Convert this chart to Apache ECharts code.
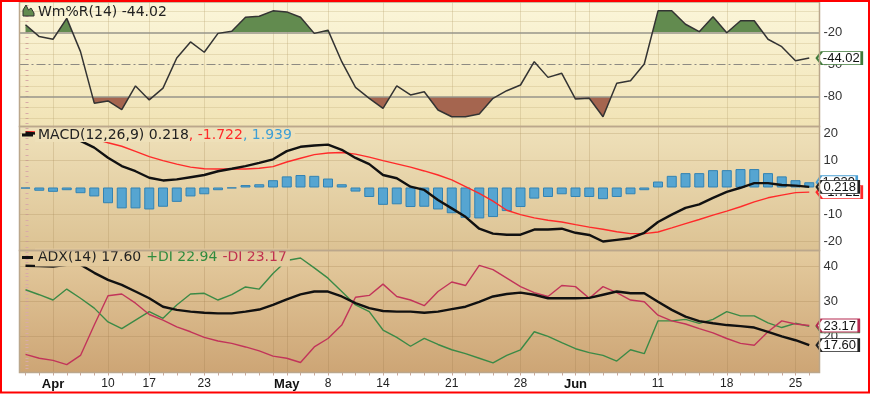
<!DOCTYPE html>
<html><head><meta charset="utf-8">
<script src="https://cdn.jsdelivr.net/npm/echarts/dist/echarts.min.js"></script>
<style>html,body{margin:0;padding:0;background:#fff}#c{width:871px;height:394px}</style>
</head><body><div id="c"></div>
<script>
// ---- data (one value per trading day, 58 days) ----
const wr = [-13,-24,-26.5,-7,-38,-86,-84,-92,-70,-83,-72,-44,-29,-38.6,-21,-19,-6,-5,0,-1,
  -6,-21,-18,-47.4,-71.3,-81.5,-90.8,-70,-78.4,-75.4,-92.4,-98.7,-98.7,-96.1,-81.5,-74.4,-69.1,-47.4,-62,-58.2,
  -82.2,-81.5,-98.7,-67.5,-65.1,-49.5,0,0,-12.5,-19.4,-5.5,-20.4,-9.2,-9.2,-26.5,-33.4,-46.5,-44.02];
const macd = [20.2,19.8,19.3,18.6,17.2,14.7,11.0,7.9,6.0,3.6,2.6,3.0,3.8,4.6,6.0,6.9,7.9,9.1,10.4,13.4,
  15.0,15.5,15.8,13.9,10.9,8.6,4.6,3.4,0.3,-0.9,-4.6,-7.7,-10.8,-15.2,-17,-17.4,-17.4,-15.5,-15.5,-15.2,
  -16.7,-17.5,-19.9,-19.3,-18.7,-16.7,-12.7,-10,-7.5,-6.2,-3.8,-1.6,-0.1,1.6,1.6,0.9,0.7,0.218];
const signal = [20.6,20.5,20.3,19.9,19.3,18.0,16.5,15.2,13.3,11.4,9.9,8.6,7.5,6.9,6.8,6.8,6.8,7.1,7.7,9.4,
  10.8,12.1,12.7,12.9,12.3,11.2,9.9,8.7,7.5,6.1,4.6,2.8,0.3,-2.2,-5,-8.4,-10,-11.2,-12.1,-12.7,
  -13.7,-14.6,-15.4,-16.3,-17,-17,-16.4,-14.9,-13.3,-11.8,-10.2,-8.7,-7.1,-5.3,-3.8,-2.8,-1.9,-1.722];
const hist = [-0.4,-1.2,-1.6,-1.0,-2.1,-3.3,-5.8,-7.7,-7.7,-8.1,-7.1,-5.3,-3.3,-2.5,-1.0,-0.3,0.9,1.2,2.7,4.1,
  4.6,4.3,3.3,1.2,-1.5,-3.5,-6.4,-6.2,-7.2,-7.1,-8.1,-9.5,-11.2,-11.4,-10.9,-8.7,-7.2,-4.1,-3.5,-2.5,
  -3.5,-3.5,-4.3,-3.5,-2.5,-1.0,2.2,4.3,5.3,5.3,6.4,6.4,6.8,6.8,5.3,4.1,2.7,1.939];
const adx = [40.1,40.0,39.9,40.4,40.4,38.1,36.1,34.7,32.8,30.9,28.5,27.6,27.1,26.8,26.6,26.6,27.1,27.7,29.0,30.6,
  32.0,32.8,32.8,31.4,29.5,28.1,27.3,27.1,27.1,26.8,27.1,27.8,28.5,29.9,31.4,32.1,32.5,31.9,30.9,30.9,
  30.9,31.0,31.9,32.8,32.3,32.3,29.9,27.6,25.7,24.4,23.8,23.3,23.0,22.6,21.4,20.1,19.0,17.6];
const plusDI = [33.3,31.9,30.4,33.5,30.9,28.1,24.2,22.3,24.7,27.1,25.2,29,32.1,32.3,30.4,31.9,34.1,33.5,37.9,41.6,
  42.3,39.5,36.6,32.8,29,27.1,21.9,19.8,17.3,19.5,17.8,16.3,15.2,13.9,12.6,14.7,16.3,21.4,20.1,18.3,
  16.6,15.5,14.7,13.1,16.3,15.2,24.5,24.5,24.9,23.8,24.9,27.1,25.9,25.9,23.9,22.6,23.8,22.94];
const minusDI = [15,13.9,13.3,12.1,14.7,23.3,31.6,32.1,29.5,26.3,24.7,22.8,21.4,19.8,18.8,18.1,17.1,16.0,14.5,13.9,
  12.7,17.1,19.5,23.3,31.2,31.7,34.9,31.4,30.4,28.8,32.8,35.5,34.5,40.2,39,36.6,34.2,32.5,31.4,34.5,
  34.2,30.9,34.2,32.5,30.4,29.9,26.1,24.5,23.6,22.3,21.1,19.5,18.1,17.6,21.4,24.5,23.6,23.17];
// x-axis tick labels (day index -> label) and weekly grid-line days
const xTickIndex = [2,6,9,13,19,22,26,31,36,40,46,51,56];
const xTickLabels = ['Apr','10','17','23','May','8','14','21','28','Jun','11','18','25'];
const monthLabels = ['Apr','May','Jun'];
const weekLines = [2,6,9,13,18,19,22,26,31,36,40,41,46,51,56];
// indicator levels
const wrLevels = [-20,-80];
const wrMid = [-50];
const wrMinor = [0,-10,-30,-40,-60,-70,-90,-100];
const wrTicks = [-20,-50,-80];
const macdTicks = [20,10,0,-10,-20];
const adxTicks = [40,30,20];

// ---- layout ----
const L = 19.5, R = 819.5;
const P = [{t:2,b:126.5},{t:126.5,b:250.5},{t:250.5,b:372.5}];
const xMin = -0.4364, xMax = 57.745;
const yR = [[-107.77, 8.23],[-23.23, 22.49],[9.86, 44.43]];
const FONT = 'Liberation Sans, Arial, sans-serif';
const LEG = 'DejaVu Sans, Verdana, sans-serif';
const GREEN = '#628b4f', BROWN = '#a5654f';

const range = (a,b,s) => { const r=[]; for(let v=a; v<=b+1e-9; v+=s) r.push(+v.toFixed(3)); return r; };
const pair = a => a.map((v,i)=>[i,v]);
const chart = echarts.init(document.getElementById('c'), null, {renderer:'canvas'});

const grids = P.map(p=>({left:L, top:p.t, width:R-L, height:p.b-p.t, containLabel:false}));
const xAxes = P.map((p,k)=>({
  type:'value', gridIndex:k, min:xMin, max:xMax,
  splitLine:{show:false}, axisLine:{show:false},
  axisTick: k===2 ? {show:true, customValues: wr.map((v,i)=>i), length:3, lineStyle:{color:'#c9a79a'}} : {show:false},
  axisLabel: k===2 ? {show:true, customValues: xTickIndex, margin:5, color:'#222', fontFamily:FONT, fontSize:12,
     formatter: v => { const s = xTickLabels[xTickIndex.indexOf(Math.round(v))] || ''; return monthLabels.includes(s) ? '{m|'+s+'}' : s; },
     rich:{m:{fontWeight:'bold', fontSize:13, fontFamily:FONT, color:'#111'}}} : {show:false}
}));
const yTickSets = [wrTicks, macdTicks, adxTicks];
const yMinor = [range(-105,5,5), range(-22,22,2), range(10,44,1)];
const yAxes = P.map((p,k)=>({
  type:'value', gridIndex:k, position:'right', min:yR[k][0], max:yR[k][1],
  splitLine:{show:false}, axisLine:{show:false},
  axisTick:{show:true, customValues:yMinor[k], length:3, lineStyle:{color:'#d8aaa8', width:1}},
  axisLabel:{show:true, customValues:yTickSets[k], margin:4, color:'#333', fontFamily:FONT, fontSize:13}
}));

const vLine = (c) => weekLines.map(i=>({xAxis:i, lineStyle:{color:c, width:1, type:'solid'}}));
const hLine = (vals, st) => vals.map(v=>({yAxis:v, lineStyle:st}));
const mlBase = {silent:true, symbol:['none','none'], label:{show:false}, animation:false, z:1, emphasis:{disabled:true}};

const TAG = 'path://M0,6.5L5,0L45,0L45,13L5,13Z';
function tag(v, txt, w, border, z){
  return {silent:true, animation:false, z:z, symbol:TAG, symbolSize:[w,13], symbolOffset:[7.5 + w/2, 0],
    itemStyle:{color:'#fff', borderColor:border, borderWidth:1.5},
    label:{show:true, position:'inside', offset:[2,0.5], formatter:txt, color:'#111', fontFamily:FONT, fontSize:13},
    data:[{coord:[57, v]}]};
}

const series = [
  // W%R fills (above -20 green, below -80 brown)
  {type:'line', xAxisIndex:0, yAxisIndex:0, data:pair(wr), showSymbol:false, lineStyle:{width:0, opacity:0},
   areaStyle:{origin:'start', opacity:1}, silent:true, z:2,
   markLine:Object.assign({}, mlBase, {data: vLine('rgba(190,170,120,0.35)')
     .concat(hLine(wrMinor, {color:'rgba(185,165,110,0.28)', width:1, type:'solid'}))})},
  {type:'line', xAxisIndex:0, yAxisIndex:0, data:pair(wr), showSymbol:false, lineStyle:{width:0, opacity:0},
   areaStyle:{origin:'end', opacity:1}, silent:true, z:2,
   markLine:Object.assign({}, mlBase, {z:3, data: hLine(wrLevels, {color:'#97948a', width:1.6, type:'solid'})
     .concat(hLine(wrMid, {color:'#8d8a82', width:1.2, type:[9,3,2,3]}))})},
  {type:'line', xAxisIndex:0, yAxisIndex:0, data:pair(wr), showSymbol:false, clip:false, z:4,
   lineStyle:{color:'#333', width:1.5}, markPoint: tag(wr[57], wr[57].toFixed(2), 45, '#3f7a3a', 8)},
  // MACD
  {type:'bar', xAxisIndex:1, yAxisIndex:1, data:pair(hist), barWidth:10, clip:false, z:2,
   itemStyle:{color:'#56a5d1', borderColor:'#3383b3', borderWidth:1},
   markLine:Object.assign({}, mlBase, {data: vLine('rgba(170,140,90,0.28)')
     .concat(hLine([20,10,-10,-20], {color:'rgba(170,140,90,0.28)', width:1, type:'solid'}))}),
   markPoint: tag(hist[57], hist[57].toFixed(3), 40, '#4aa0d4', 6)},
  {type:'line', xAxisIndex:1, yAxisIndex:1, data:pair(signal), showSymbol:false, clip:false, z:3,
   lineStyle:{color:'#ff2a2a', width:1.4}, markPoint: tag(signal[57], signal[57].toFixed(3), 45, '#ff2a2a', 7)},
  {type:'line', xAxisIndex:1, yAxisIndex:1, data:pair(macd), showSymbol:false, clip:false, z:4,
   lineStyle:{color:'#111', width:2.4}, markPoint: tag(macd[57], macd[57].toFixed(3), 42, '#222', 8)},
  // ADX
  {type:'line', xAxisIndex:2, yAxisIndex:2, data:pair(plusDI), showSymbol:false, clip:false, z:3,
   lineStyle:{color:'#3b8a46', width:1.4},
   markLine:Object.assign({}, mlBase, {data: vLine('rgba(160,125,80,0.28)')
     .concat(hLine(adxTicks, {color:'rgba(160,125,80,0.28)', width:1, type:'solid'}))}),
   markPoint: tag(plusDI[57], plusDI[57].toFixed(2), 42, '#3b8a46', 6)},
  {type:'line', xAxisIndex:2, yAxisIndex:2, data:pair(minusDI), showSymbol:false, clip:false, z:3,
   lineStyle:{color:'#c2345a', width:1.4}, markPoint: tag(minusDI[57], minusDI[57].toFixed(2), 42, '#b52a50', 7)},
  {type:'line', xAxisIndex:2, yAxisIndex:2, data:pair(adx), showSymbol:false, clip:false, z:4,
   lineStyle:{color:'#111', width:2.4}, markPoint: tag(adx[57], adx[57].toFixed(2), 42, '#222', 8)}
];

const grad = (a,b) => new echarts.graphic.LinearGradient(0,0,0,1,[{offset:0,color:a},{offset:1,color:b}]);
const bgCols = [['#fbf6da','#f1e3b5'],['#efe1ba','#dcc293'],['#e4cb9e','#cda575']];
const graphics = [];
P.forEach((p,k)=>{
  graphics.push({type:'rect', z:-10, silent:true, shape:{x:L, y:p.t, width:R-L, height:p.b-p.t}, style:{fill:grad(bgCols[k][0], bgCols[k][1])}});
});
P.forEach((p,k)=>{
  graphics.push({type:'rect', z:50, silent:true, shape:{x:L, y:p.t, width:R-L, height:p.b-p.t}, style:{fill:'none', stroke:'#bba78c', lineWidth:1.5}});
});
// legend icons
graphics.push({type:'polygon', z:60, silent:true, shape:{points:[[23,16],[23,10],[26,5],[28.5,10],[31,8],[34,13],[34,16]]}, style:{fill:GREEN, stroke:'#333', lineWidth:1}});
graphics.push({type:'rect', z:60, silent:true, shape:{x:22, y:133.5, width:11, height:3}, style:{fill:'#111'}});
graphics.push({type:'rect', z:60, silent:true, shape:{x:22, y:256, width:11, height:3}, style:{fill:'#111'}});
// outer red frame
graphics.push({type:'rect', z:100, silent:true, shape:{x:1, y:1, width:868, height:391.5}, style:{fill:'none', stroke:'#ff0000', lineWidth:2}});

const legStyle = {fontFamily:LEG, fontSize:14, fontWeight:'normal', color:'#222', lineHeight:14};
const rs = (c, lh) => Object.assign({}, legStyle, {color:c, lineHeight:lh});
const option = {
  animation:false,
  backgroundColor:'#fff',
  grid: grids, xAxis: xAxes, yAxis: yAxes,
  visualMap:[
    {type:'piecewise', show:false, seriesIndex:0, dimension:1, pieces:[{min:-20, max:200, color:GREEN},{min:-300, max:-20, color:'rgba(0,0,0,0)'}]},
    {type:'piecewise', show:false, seriesIndex:1, dimension:1, pieces:[{min:-300, max:-80, color:BROWN},{min:-80, max:200, color:'rgba(0,0,0,0)'}]}
  ],
  title:[
    {left:36, top:5, padding:[0,2,0,2], text:'Wm%R(14) ' + wr[57].toFixed(2), textStyle:legStyle},
    {left:35, top:128, padding:[0,3,0,3], backgroundColor:'#eee0b9',
     text:'{k|MACD(12,26,9) ' + macd[57].toFixed(3) + '}{r|, ' + signal[57].toFixed(3) + '}{b|, ' + hist[57].toFixed(3) + '}',
     textStyle:{lineHeight:14, rich:{k:rs('#222',14), r:rs('#ff2a2a',14), b:rs('#3d9fd6',14)}}},
    {left:35, top:251.5, padding:[0,3,0,3], backgroundColor:'#e3ca9d',
     text:'{k|ADX(14) ' + adx[57].toFixed(2) + '} {g|+DI ' + plusDI[57].toFixed(2) + '} {r|-DI ' + minusDI[57].toFixed(2) + '}',
     textStyle:{lineHeight:12, rich:{k:rs('#222',12), g:rs('#2e8b3e',12), r:rs('#c0304f',12)}}}
  ],
  graphic: graphics,
  series: series
};
chart.setOption(option);
</script></body></html>
